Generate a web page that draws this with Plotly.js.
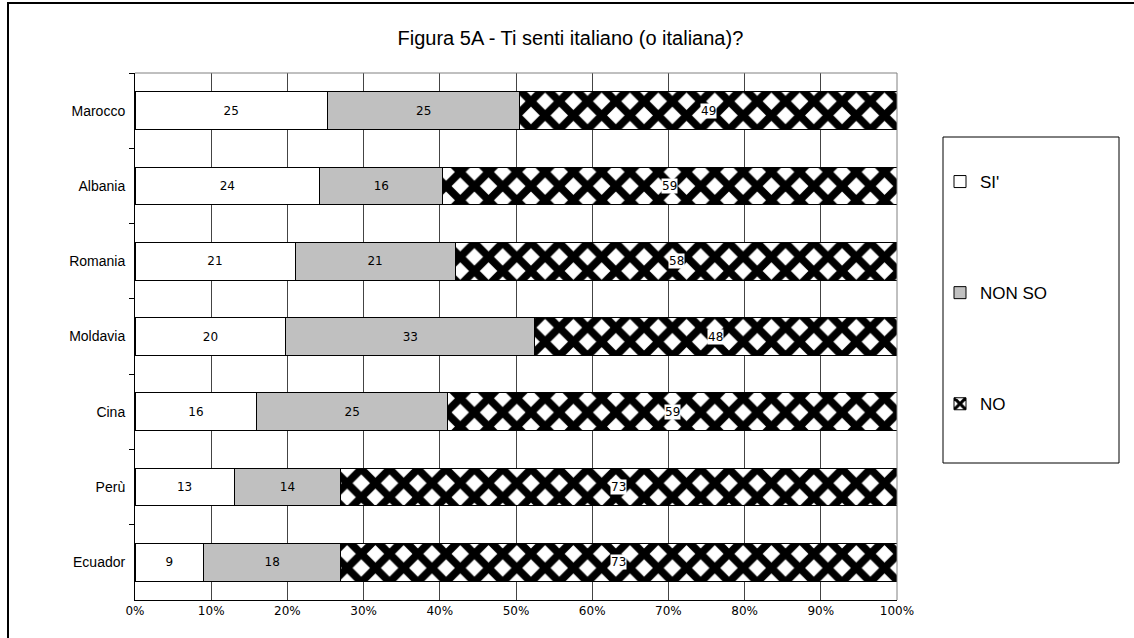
<!DOCTYPE html>
<html>
<head>
<meta charset="utf-8">
<script src="https://cdn.plot.ly/plotly-3.0.1.min.js"></script>
<style>
  html, body { margin: 0; padding: 0; background: #fff; }
  #wrap { position: relative; width: 1134px; height: 638px; overflow: hidden; }
  #chart { position: absolute; left: 0; top: 0; width: 1134px; height: 638px; }
  #frame { position: absolute; left: 7px; top: 2px; width: 1200px; height: 700px;
           border-top: 2px solid #000; border-left: 2px solid #000; pointer-events: none; }
</style>
</head>
<body>
<div id="wrap">
  <div id="chart"></div>
  <div id="frame"></div>
</div>
<script>
// Data
const countries = ["Marocco", "Albania", "Romania", "Moldavia", "Cina", "Perù", "Ecuador"];
const si     = [25, 24, 21, 20, 16, 13, 9];
const nonSo  = [25, 16, 21, 33, 25, 14, 18];
const no     = [49, 59, 58, 48, 59, 73, 73];
const seriesNames = ["SI'", "NON SO", "NO"];
const xTickVals = [0, 10, 20, 30, 40, 50, 60, 70, 80, 90, 100];

const baseLine = { color: "#000", width: 1 };
const wideFont = "DejaVu Sans, Verdana, sans-serif";
const arial = "Liberation Sans, Arial, sans-serif";
const txtFont = { family: wideFont, size: 12, color: "#000" };

const traces = [
  {
    type: "bar", orientation: "h", name: seriesNames[0], legendgroup: "a",
    y: countries, x: si, text: si.map(String),
    textposition: "inside", insidetextanchor: "middle", textangle: 0,
    constraintext: "none", textfont: txtFont,
    marker: { color: "#ffffff", line: baseLine },
    hoverinfo: "skip"
  },
  {
    type: "bar", orientation: "h", name: seriesNames[1], legendgroup: "b",
    y: countries, x: nonSo, text: nonSo.map(String),
    textposition: "inside", insidetextanchor: "middle", textangle: 0,
    constraintext: "none", textfont: txtFont,
    marker: { color: "#c0c0c0", line: baseLine },
    hoverinfo: "skip"
  },
  {
    type: "bar", orientation: "h", name: seriesNames[2], legendgroup: "c",
    y: countries, x: no, textposition: "none",
    marker: {
      color: "#ffffff", line: baseLine,
      pattern: { shape: "x", fgcolor: "#000000", bgcolor: "#ffffff", size: 20, solidity: 0.62, fillmode: "replace" }
    },
    hoverinfo: "skip"
  }
];

// Labels for NO segments (white boxed), positioned from the normalized data
const annotations = countries.map((c, i) => {
  const tot = si[i] + nonSo[i] + no[i];
  return {
    x: (si[i] + nonSo[i] + no[i] / 2) / tot * 100, y: c,
    xref: "x", yref: "y", text: String(no[i]), showarrow: false,
    bgcolor: "#ffffff", borderpad: 0, font: txtFont
  };
});

const plotL = 135, plotR = 897, plotT = 73, plotB = 600;
const pw = plotR - plotL, ph = plotB - plotT;
const px = v => (v - plotL) / pw;
const py = v => (plotB - v) / ph;

const layout = {
  width: 1134, height: 638,
  margin: { l: plotL, r: 1134 - plotR, t: plotT, b: 638 - plotB, pad: 0 },
  paper_bgcolor: "#ffffff", plot_bgcolor: "#ffffff",
  barmode: "stack", barnorm: "percent", bargap: 0.5,
  font: { family: arial, color: "#000" },
  title: {
    text: "Figura 5A - Ti senti italiano (o italiana)?",
    font: { family: arial, size: 20, color: "#000" },
    x: 0.503, xref: "container", xanchor: "center",
    y: 1 - 38 / 638, yref: "container", yanchor: "middle"
  },
  xaxis: {
    range: [0, 100], tickvals: xTickVals, ticktext: xTickVals.map(v => v + "%"),
    showgrid: true, gridcolor: "#444444", gridwidth: 1,
    showline: true, linecolor: "#000", linewidth: 1,
    ticks: "", zeroline: false,
    tickfont: { family: wideFont, size: 12, color: "#000" },
    fixedrange: true
  },
  yaxis: {
    type: "category", categoryorder: "array", categoryarray: countries,
    autorange: "reversed",
    showgrid: false, showline: true, linecolor: "#000", linewidth: 1,
    ticks: "outside", tickson: "boundaries", ticklen: 5, tickcolor: "#000",
    tickfont: { family: arial, size: 14, color: "#000" },
    ticklabelstandoff: 6,
    fixedrange: true
  },
  showlegend: true,
  legend: {
    x: px(940), y: py(164), xref: "paper", yref: "paper",
    xanchor: "left", yanchor: "top",
    traceorder: "grouped", tracegroupgap: 86,
    bgcolor: "rgba(0,0,0,0)", borderwidth: 0,
    font: { family: arial, size: 17, color: "#000" },
    itemwidth: 30
  },
  shapes: [
    { type: "line", xref: "paper", yref: "paper", x0: 0, x1: 1, y0: 1, y1: 1,
      line: { color: "#808080", width: 1 }, layer: "above" },
    { type: "line", xref: "paper", yref: "paper", x0: 1, x1: 1, y0: 0, y1: 1,
      line: { color: "#808080", width: 1 }, layer: "above" },
    { type: "rect", xref: "paper", yref: "paper",
      x0: px(943), x1: px(1119), y0: py(463), y1: py(137),
      line: { color: "#000", width: 1 }, fillcolor: "rgba(0,0,0,0)", layer: "above" }
  ],
  annotations: annotations
};

Plotly.newPlot("chart", traces, layout, { displayModeBar: false, staticPlot: true });
</script>
</body>
</html>
